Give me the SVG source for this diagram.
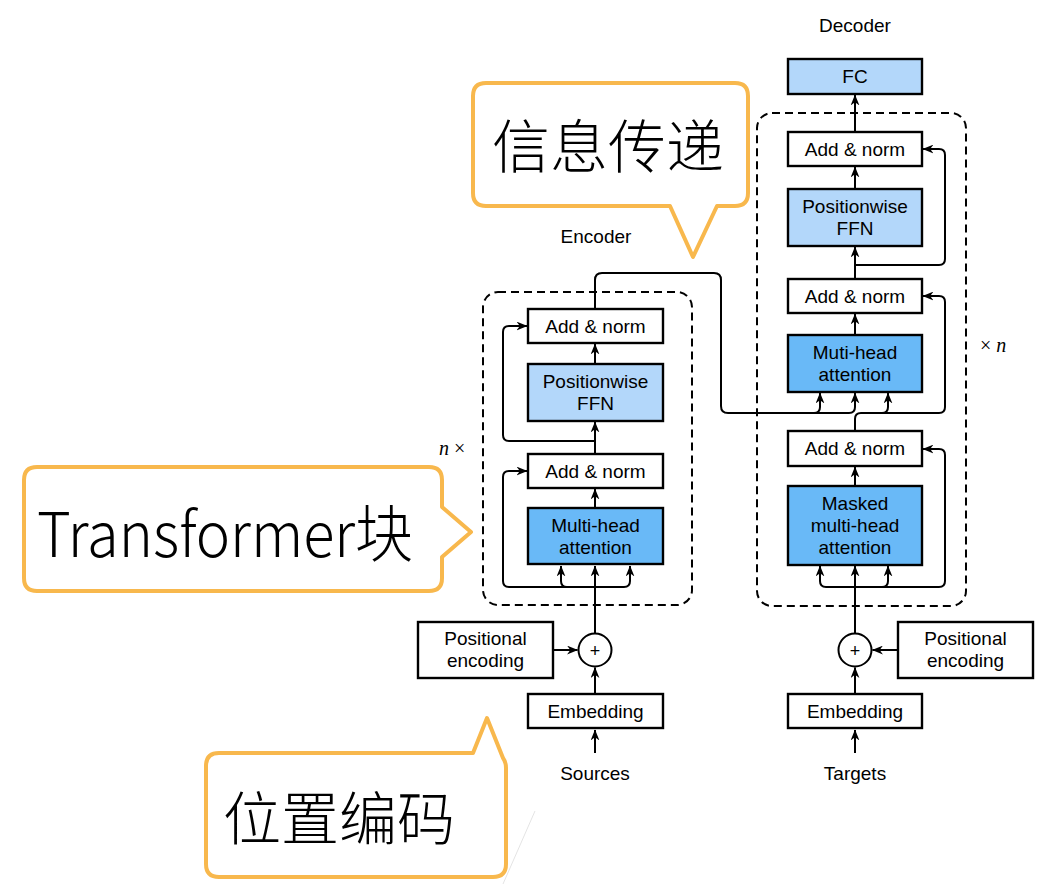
<svg xmlns="http://www.w3.org/2000/svg" width="1051" height="885" viewBox="0 0 1051 885">
<defs>
<marker id="ah" viewBox="0 0 10 8" refX="9.5" refY="4" markerWidth="11" markerHeight="9" markerUnits="userSpaceOnUse" orient="auto">
<path d="M0,0 L10,4 L0,8 L3,4 Z" fill="#000"/>
</marker>
<style>
.box{stroke:#000;stroke-width:2.4;fill:#fff}
.ffn{fill:#b3d7fa}
.att{fill:#69b9f7}
.t{font-family:"Liberation Sans",Arial,sans-serif;font-size:19px;text-anchor:middle;fill:#000}
.c{fill:none;stroke:#000;stroke-width:2}
.a{marker-end:url(#ah)}
.dash{fill:none;stroke:#000;stroke-width:2;stroke-dasharray:8,5}
.call{fill:#fff;stroke:#f8b84d;stroke-width:4;stroke-linejoin:round}
.cj{font-family:"Noto Sans CJK SC","Noto Sans",sans-serif;font-weight:200;fill:#000}
.it{font-family:"Liberation Serif","Times New Roman",serif;font-size:20px;fill:#000}
</style>
</defs>

<rect x="0" y="0" width="1051" height="885" fill="#fff"/>
<line x1="535" y1="811" x2="503" y2="884" stroke="#e4e4e4" stroke-width="1"/>

<!-- frames -->
<g id="encoder-frame">
<rect class="dash" x="483" y="292" width="209" height="313" rx="15"/>
<text class="t" x="596" y="243">Encoder</text>
<text class="it" x="439" y="455"><tspan font-style="italic">n</tspan> ×</text>
</g>
<g id="decoder-frame">
<rect class="dash" x="757" y="113" width="209" height="493" rx="15"/>
<text class="t" x="855" y="32">Decoder</text>
<text class="it" x="980" y="352">× <tspan font-style="italic">n</tspan></text>
</g>

<!-- connectors -->
<g id="connectors">
<!-- encoder -->
<path class="c a" d="M595,753 V730"/>
<path class="c a" d="M595,694 V667.5"/>
<path class="c a" d="M553,650 H577.5"/>
<path class="c a" d="M595,634 V566"/>
<path class="c a" d="M595,587 H509 Q503,587 503,581 V477 Q503,471 509,471 H527"/>
<path class="c a" d="M595,587 H567 Q561,587 561,581 V566"/>
<path class="c a" d="M595,587 H624 Q630,587 630,581 V566"/>
<path class="c a" d="M595,508 V489"/>
<path class="c a" d="M595,454 V422"/>
<path class="c a" d="M595,441 H509 Q503,441 503,435 V332 Q503,326 509,326 H527"/>
<path class="c a" d="M595,364 V344"/>
<!-- encoder to decoder -->
<path class="c a" d="M595,309 V280 Q595,273 602,273 H714 Q721,273 721,280 V406 Q721,413 728,413 H814 Q820,413 820,407 V393"/>
<path class="c a" d="M814,413 H849 Q855,413 855,407 V393"/>
<!-- decoder -->
<path class="c a" d="M855,753 V730"/>
<path class="c a" d="M855,694 V667.5"/>
<path class="c a" d="M898,650 H872.5"/>
<path class="c a" d="M855,634 V566"/>
<path class="c a" d="M855,587 H826 Q820,587 820,581 V566"/>
<path class="c a" d="M855,587 H882 Q888,587 888,581 V566"/>
<path class="c a" d="M855,587 H939 Q945,587 945,581 V455 Q945,449 939,449 H923"/>
<path class="c a" d="M855,486 V467"/>
<path class="c a" d="M855,431 V419 Q855,413 861,413 H939 Q945,413 945,407 V302 Q945,296 939,296 H923"/>
<path class="c a" d="M861,413 H882 Q888,413 888,407 V393"/>
<path class="c a" d="M855,335 V314"/>
<path class="c a" d="M855,279 V247"/>
<path class="c a" d="M855,265 H939 Q945,265 945,259 V155 Q945,149 939,149 H923"/>
<path class="c a" d="M855,189 V167"/>
<path class="c a" d="M855,132 V95"/>
</g>

<!-- encoder nodes -->
<g id="enc-sources"><text class="t" x="595" y="780">Sources</text></g>
<g id="enc-embedding"><rect class="box" x="528" y="694" width="135" height="34"/><text class="t" x="595.5" y="718">Embedding</text></g>
<g id="enc-posenc"><rect class="box" x="418" y="622" width="135" height="56"/><text class="t" x="485.5" y="645">Positional</text><text class="t" x="485.5" y="667">encoding</text></g>
<g id="enc-plus"><circle cx="595" cy="650" r="16.5" fill="#fff" stroke="#000" stroke-width="2"/><text x="595" y="656.5" font-family="Liberation Sans,sans-serif" font-size="18" text-anchor="middle">+</text></g>
<g id="enc-attention"><rect class="box att" x="528" y="508" width="135" height="56"/><text class="t" x="595.5" y="532">Multi-head</text><text class="t" x="595.5" y="554">attention</text></g>
<g id="enc-addnorm1"><rect class="box" x="528" y="454" width="135" height="34"/><text class="t" x="595.5" y="478">Add &amp; norm</text></g>
<g id="enc-ffn"><rect class="box ffn" x="528" y="364" width="135" height="57"/><text class="t" x="595.5" y="388">Positionwise</text><text class="t" x="595.5" y="410">FFN</text></g>
<g id="enc-addnorm2"><rect class="box" x="528" y="309" width="135" height="34"/><text class="t" x="595.5" y="333">Add &amp; norm</text></g>

<!-- decoder nodes -->
<g id="dec-targets"><text class="t" x="855" y="780">Targets</text></g>
<g id="dec-embedding"><rect class="box" x="788" y="694" width="134" height="34"/><text class="t" x="855" y="718">Embedding</text></g>
<g id="dec-posenc"><rect class="box" x="898" y="622" width="135" height="56"/><text class="t" x="965.5" y="645">Positional</text><text class="t" x="965.5" y="667">encoding</text></g>
<g id="dec-plus"><circle cx="855" cy="650" r="16.5" fill="#fff" stroke="#000" stroke-width="2"/><text x="855" y="656.5" font-family="Liberation Sans,sans-serif" font-size="18" text-anchor="middle">+</text></g>
<g id="dec-masked"><rect class="box att" x="788" y="486" width="134" height="79"/><text class="t" x="855" y="510">Masked</text><text class="t" x="855" y="532">multi-head</text><text class="t" x="855" y="554">attention</text></g>
<g id="dec-addnorm1"><rect class="box" x="788" y="431" width="134" height="35"/><text class="t" x="855" y="455">Add &amp; norm</text></g>
<g id="dec-attention"><rect class="box att" x="788" y="335" width="134" height="57"/><text class="t" x="855" y="359">Muti-head</text><text class="t" x="855" y="381">attention</text></g>
<g id="dec-addnorm2"><rect class="box" x="788" y="279" width="134" height="34"/><text class="t" x="855" y="303">Add &amp; norm</text></g>
<g id="dec-ffn"><rect class="box ffn" x="788" y="189" width="134" height="57"/><text class="t" x="855" y="213">Positionwise</text><text class="t" x="855" y="235">FFN</text></g>
<g id="dec-addnorm3"><rect class="box" x="788" y="132" width="134" height="34"/><text class="t" x="855" y="156">Add &amp; norm</text></g>
<g id="dec-fc"><rect class="box ffn" x="788" y="59" width="134" height="35"/><text class="t" x="855" y="83">FC</text></g>

<!-- callouts -->
<g id="callout-info">
<path class="call" d="M486,83 H735 Q748,83 748,96 V193 Q748,206 735,206 H717 L693,257 L670,206 H486 Q473,206 473,193 V96 Q473,83 486,83 Z"/>
<text class="cj" x="608" y="168" font-size="58" text-anchor="middle">信息传递</text>
</g>
<g id="callout-block">
<path class="call" d="M37,467 H429 Q442,467 442,480 V507 L471,532 L442,557 V578 Q442,591 429,591 H37 Q24,591 24,578 V480 Q24,467 37,467 Z"/>
<text class="cj" x="37" y="557" font-size="62" textLength="376" lengthAdjust="spacingAndGlyphs">Transformer块</text>
</g>
<g id="callout-pos">
<path class="call" d="M219,753 H473 L487,718 L503,758 Q506,762 506,768 V864 Q506,877 493,877 H219 Q206,877 206,864 V766 Q206,753 219,753 Z"/>
<text class="cj" x="339" y="840" font-size="58" text-anchor="middle">位置编码</text>
</g>
</svg>
